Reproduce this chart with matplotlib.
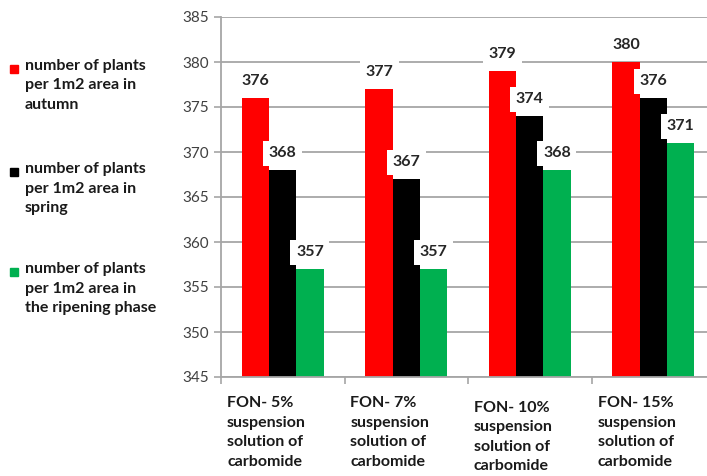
import matplotlib

matplotlib.use("Agg")
import matplotlib.pyplot as plt
from matplotlib.patches import Rectangle
import numpy as np

# --- dados ---
grupos = [
    "FON- 5%\nsuspension\nsolution of\ncarbomide",
    "FON- 7%\nsuspension\nsolution of\ncarbomide",
    "FON- 10%\nsuspension\nsolution of\ncarbomide",
    "FON- 15%\nsuspension\nsolution of\ncarbomide",
]
outono = [376, 377, 379, 380]
primavera = [368, 367, 374, 376]
maturacao = [357, 357, 368, 371]

series = [
    ("number of plants\nper 1m2 area in\nautumn", outono, "#ff0000"),
    ("number of plants\nper 1m2 area in\nspring", primavera, "#000000"),
    ("number of plants\nper 1m2 area in\nthe ripening phase", maturacao, "#00b050"),
]

plt.rcParams["font.family"] = ["Lato", "DejaVu Sans"]

W, H = 707, 476
fig = plt.figure(figsize=(W / 100, H / 100), dpi=100)
ax = fig.add_axes([221 / W, 1 - 377 / H, 494 / W, 360 / H])

x = np.arange(len(grupos)) + 0.5
largura = 0.22
offsets = [-largura, 0, largura]

for (nome, vals, cor), off in zip(series, offsets):
    ax.bar(x + off, np.array(vals) - 345, bottom=345, width=largura,
           color=cor, zorder=2)
    for xi, v in zip(x + off, vals):
        ax.annotate(str(v), (xi, v), xytext=(0, 7), textcoords="offset points",
                    ha="center", va="bottom", fontsize=11.5, fontweight="bold",
                    color="#262626", zorder=4,
                    bbox=dict(boxstyle="square,pad=0.35", fc="white", ec="none"))

ax.set_xlim(0, 4)
ax.set_ylim(345, 385)
ax.set_yticks(range(345, 386, 5))
ax.yaxis.grid(True, color="#a6a6a6", linewidth=1.3, zorder=0)
ax.set_axisbelow(True)
ax.tick_params(axis="y", length=5, color="#a6a6a6", width=1.2, labelsize=11,
               labelcolor="#404040", pad=4)
ax.set_xticks([0, 1, 2, 3])
ax.set_xticklabels([])
ax.tick_params(axis="x", length=5, color="#a6a6a6", width=1.2, direction="out")
for s in ["top", "right"]:
    ax.spines[s].set_visible(False)
for s in ["left", "bottom"]:
    ax.spines[s].set_color("#a6a6a6")
    ax.spines[s].set_linewidth(1.3)

# rótulos das categorias
desloc_y = [396, 396, 401, 396]
for i, (g, yy) in enumerate(zip(grupos, desloc_y)):
    fig.text((227 + i * 123.5) / W, 1 - yy / H, g, ha="left", va="top",
             fontsize=11.5, fontweight="bold", color="#1a1a1a", linespacing=1.5)

# legenda manual à esquerda
leg_y = [59, 162, 262]
for (nome, vals, cor), yy in zip(series, leg_y):
    fig.add_artist(Rectangle((10 / W, 1 - (yy + 14) / H), 8 / W, 8 / H,
                             transform=fig.transFigure, color=cor))
    fig.text(25 / W, 1 - yy / H, nome, ha="left", va="top", fontsize=11.5,
             fontweight="bold", color="#1a1a1a", linespacing=1.5)

fig.savefig("out.png", dpi=100)
